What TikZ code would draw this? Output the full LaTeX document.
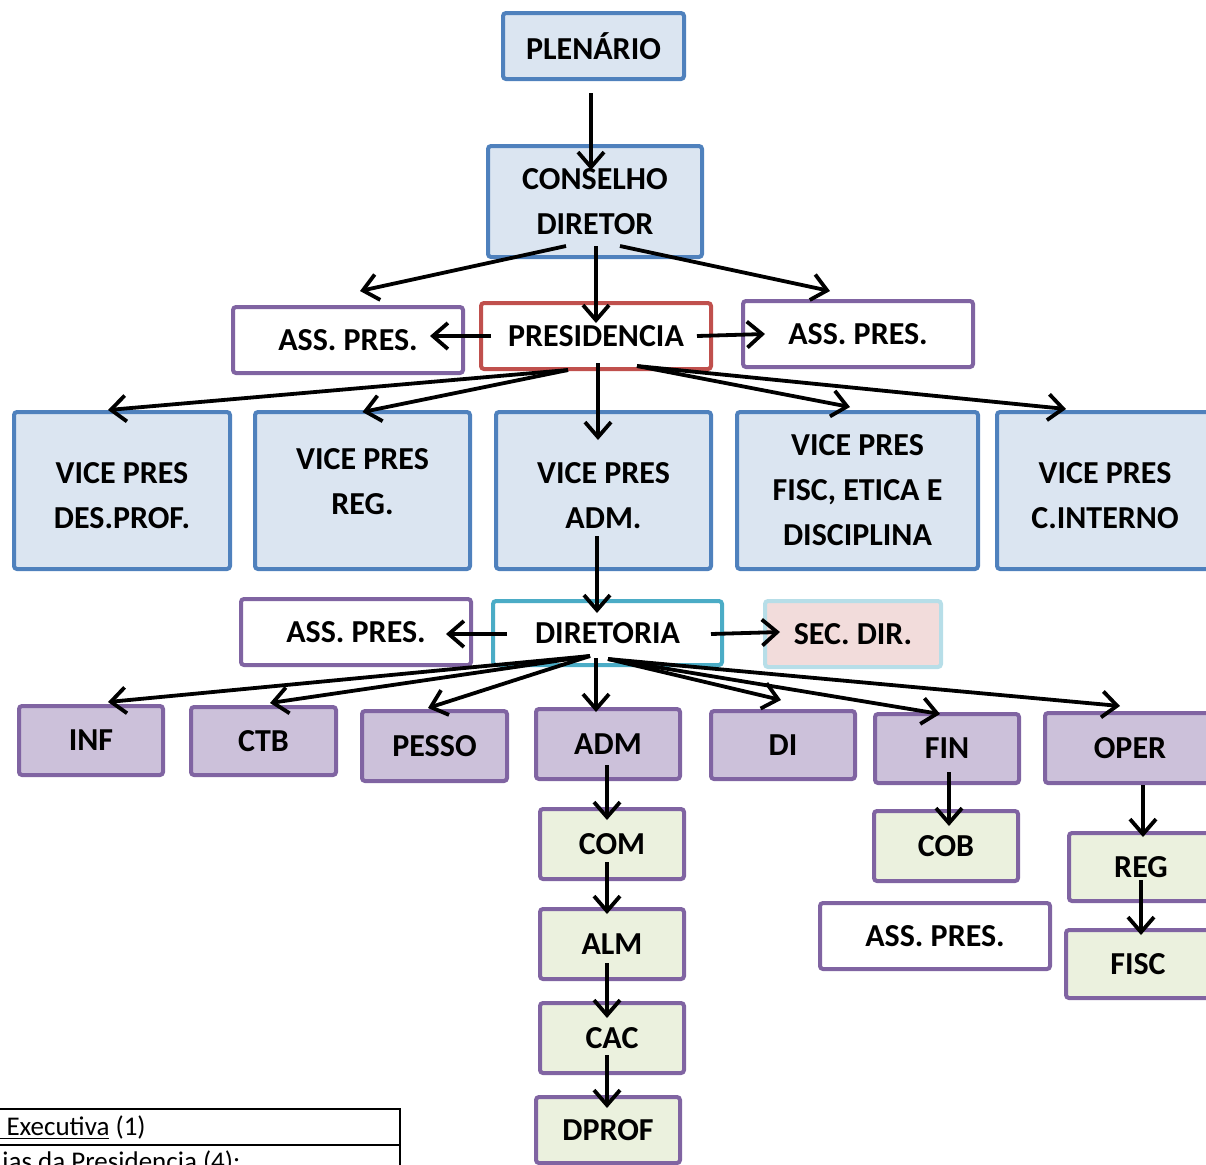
\documentclass[tikz,border=0pt]{standalone}
\usepackage{fontspec}
\setmainfont{Carlito}
\usetikzlibrary{arrows.meta}
\definecolor{bluefill}{HTML}{DBE5F1}
\definecolor{blueline}{HTML}{4F81BD}
\definecolor{redline}{HTML}{C0504D}
\definecolor{purpleline}{HTML}{8064A2}
\definecolor{purplefill}{HTML}{CCC1DA}
\definecolor{tealline}{HTML}{4BACC6}
\definecolor{secline}{HTML}{B7DEE8}
\definecolor{secfill}{HTML}{F2DCDB}
\definecolor{greenfill}{HTML}{EBF1DE}
\newcommand\lowstrut{\rule{0pt}{16pt}}
\tikzset{
  box/.style={draw, line width=2pt, rounded corners=1.5pt, inner sep=0pt, outer sep=0pt,
    align=center, font=\fontsize{16}{22.5}\selectfont\bfseries},
  wh/.style 2 args={minimum width=#1*0.5pt, minimum height=#2*0.5pt},
  bluebox/.style={box, draw=blueline, fill=bluefill},
  assbox/.style={box, draw=purpleline, fill=white, wh={230}{66}},
  purplebox/.style={box, draw=purpleline, fill=purplefill},
  greenbox/.style={box, draw=purpleline, fill=greenfill},
  arr/.style={line width=1.9pt, -{Straight Barb[length=7.5pt,width=13pt,line width=1.9pt]}},
}
\begin{document}
\begin{tikzpicture}[x=0.5pt,y=-0.5pt]
  \useasboundingbox (0,0) rectangle (1206,1164);
  \clip (0,0) rectangle (1206,1164);
  % top levels
  \node[bluebox, wh={181}{66}] (plen) at (593.5,46) {PLENÁRIO};
  \node[bluebox, wh={214}{111}] (cons) at (595,201.5) {CONSELHO\\DIRETOR};
  \node[assbox] (assA) at (348,340) {ASS. PRES.};
  \node[box, draw=redline, fill=white, wh={230}{66}] (pres) at (596,336) {PRESIDENCIA};
  \node[assbox] (assB) at (858,334) {ASS. PRES.};
  % vice presidencias
  \node[bluebox, wh={216}{157}] (vpA) at (122,490.5) {\lowstrut VICE PRES\\DES.PROF.};
  \node[bluebox, wh={215}{157}] (vpB) at (362.5,490.5) {};
  \node[box, draw=none] (vpBt) at (362.5,481.5) {VICE PRES\\REG.};
  \node[bluebox, wh={215}{157}] (vpC) at (603.5,490.5) {\lowstrut VICE PRES\\ADM.};
  \node[bluebox, wh={241}{157}] (vpD) at (857.5,490.5) {VICE PRES\\FISC, ETICA E\\DISCIPLINA};
  \node[bluebox, wh={216}{157}] (vpE) at (1105,490.5) {\lowstrut VICE PRES\\C.INTERNO};
  % diretoria
  \node[assbox] (assC) at (356,632) {ASS. PRES.};
  \node[box, draw=tealline, fill=white, wh={229}{64}] (dir) at (607.5,633) {DIRETORIA};
  \node[box, draw=secline, fill=secfill, wh={176}{66}] (sec) at (853,634) {SEC. DIR.};
  % departamentos
  \node[purplebox, wh={144}{69}] (inf) at (91,740.5) {INF};
  \node[purplebox, wh={145}{68}] (ctb) at (263.5,741) {CTB};
  \node[purplebox, wh={145}{70}] (pesso) at (434.5,746) {PESSO};
  \node[purplebox, wh={144}{70}] (adm) at (608,744) {ADM};
  \node[purplebox, wh={144}{68}] (di) at (783,745) {DI};
  \node[purplebox, wh={144}{69}] (fin) at (947,748.5) {FIN};
  \node[purplebox, wh={170}{70}] (oper) at (1130,748) {OPER};
  % setores
  \node[greenbox, wh={144}{70}] (com) at (612,844) {COM};
  \node[greenbox, wh={144}{70}] (alm) at (612,944) {ALM};
  \node[greenbox, wh={144}{70}] (cac) at (612,1038) {CAC};
  \node[greenbox, wh={144}{66}] (dprof) at (608,1130) {DPROF};
  \node[greenbox, wh={144}{70}] (cob) at (946,846) {COB};
  \node[assbox] (assD) at (935,936) {ASS. PRES.};
  \node[greenbox, wh={144}{68}] (reg) at (1141,867) {REG};
  \node[greenbox, wh={144}{68}] (fisc) at (1138,964) {FISC};
  % arrows
  \draw[arr] ([shift={(-2.5,47)}]plen.center) -- ([shift={(-4,-31.5)}]cons.center);
  \draw[arr] ([shift={(-29,44.5)}]cons.center) -- ([shift={(12,-49)}]assA.center);
  \draw[arr] ([shift={(25,44.5)}]cons.center) -- ([shift={(-28,-43)}]assB.center);
  \draw[arr] ([shift={(1,44.5)}]cons.center) -- ([shift={(0,-13)}]pres.center);
  \draw[arr] ([shift={(-105,0)}]pres.center) -- ([shift={(82,-4)}]assA.center);
  \draw[arr] ([shift={(101,0)}]pres.center) -- ([shift={(-93,0)}]assB.center);
  \draw[arr] ([shift={(-28,34)}]pres.center) -- ([shift={(-14,-80.5)}]vpA.center);
  \draw[arr] ([shift={(-28,34)}]pres.center) -- ([shift={(0,-78.5)}]vpB.center);
  \draw[arr] ([shift={(2,27)}]pres.center) -- ([shift={(-5.5,-50.5)}]vpC.center);
  \draw[arr] ([shift={(41,30)}]pres.center) -- ([shift={(-7.5,-83.5)}]vpD.center);
  \draw[arr] ([shift={(41,30)}]pres.center) -- ([shift={(-39,-81.5)}]vpE.center);
  \draw[arr] ([shift={(-6.5,45.5)}]vpC.center) -- ([shift={(-10.5,-20)}]dir.center);
  \draw[arr] ([shift={(-100.5,1)}]dir.center) -- ([shift={(90,2)}]assC.center);
  \draw[arr] ([shift={(103.5,1)}]dir.center) -- ([shift={(-73,-2)}]sec.center);
  \draw[arr] ([shift={(-17.5,23)}]dir.center) -- ([shift={(17,-38.5)}]inf.center);
  \draw[arr] ([shift={(-17.5,23)}]dir.center) -- ([shift={(6.5,-38)}]ctb.center);
  \draw[arr] ([shift={(-17.5,23)}]dir.center) -- ([shift={(-6.5,-38)}]pesso.center);
  \draw[arr] ([shift={(-11.5,25)}]dir.center) -- ([shift={(-12,-32)}]adm.center);
  \draw[arr] ([shift={(0.5,26)}]dir.center) -- ([shift={(-2,-45)}]di.center);
  \draw[arr] ([shift={(0.5,26)}]dir.center) -- ([shift={(-7,-34.5)}]fin.center);
  \draw[arr] ([shift={(0.5,26)}]dir.center) -- ([shift={(-10,-42)}]oper.center);
  \draw[arr] ([shift={(-1,21)}]adm.center) -- ([shift={(-5,-24)}]com.center);
  \draw[arr] ([shift={(-5,18)}]com.center) -- ([shift={(-5,-30)}]alm.center);
  \draw[arr] ([shift={(-5,19)}]alm.center) -- ([shift={(-5,-20)}]cac.center);
  \draw[arr] ([shift={(-5,17)}]cac.center) -- ([shift={(-1,-22)}]dprof.center);
  \draw[arr] ([shift={(2,23.5)}]fin.center) -- ([shift={(3,-20)}]cob.center);
  \draw[arr] ([shift={(13,37)}]oper.center) -- ([shift={(2,-30)}]reg.center);
  \draw[arr] ([shift={(0,13)}]reg.center) -- ([shift={(3,-29)}]fisc.center);
  % legenda
  \draw[line width=1pt] (-10,1109) -- (400,1109) -- (400,1180);
  \draw[line width=1pt] (-10,1145) -- (400,1145);
  \node[anchor=base west, inner sep=0pt, font=\fontsize{13.5}{15}\selectfont] (legA) at (0,1135) {\underline{\ Executiva} (1)};
  \node[anchor=base west, inner sep=0pt, font=\fontsize{13.5}{15}\selectfont] (legB) at (2,1170) {ias da Presidencia (4):};
\end{tikzpicture}
\end{document}
